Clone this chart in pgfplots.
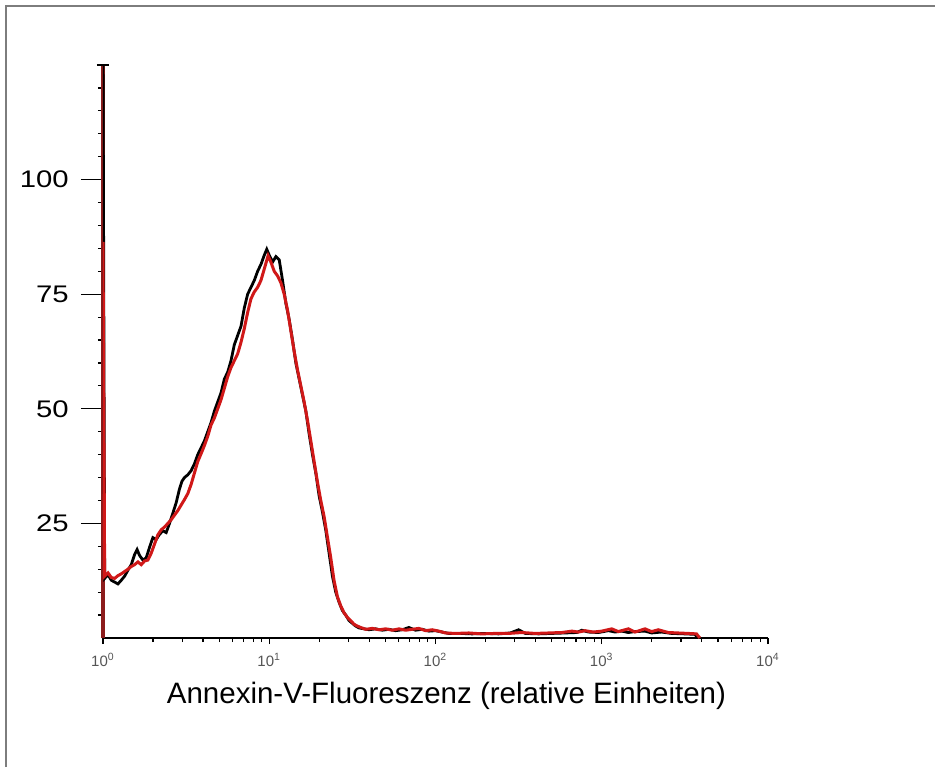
\documentclass[border=0pt]{standalone}
\usepackage{fontspec}
\setmainfont{Liberation Sans}
\usepackage{pgfplots}
\pgfplotsset{compat=1.18}
\definecolor{plotred}{RGB}{208,24,24}
\definecolor{axisred}{RGB}{140,28,28}
\definecolor{framegray}{RGB}{125,125,125}
\definecolor{tlgray}{RGB}{85,85,85}

\begin{document}
\begin{tikzpicture}
\path[use as bounding box] (0,0) rectangle (467.5pt,383.5pt);
\draw[framegray, line width=0.8pt] (3pt,0) -- (3pt,380.5pt) -- (467.5pt,380.5pt);
\begin{axis}[
  at={(51.5pt,64.5pt)}, anchor=south west,
  scale only axis, width=332.5pt, height=286.5pt,
  xmin=0, xmax=4, ymin=0, ymax=125,
  axis x line=bottom, axis y line=left,
  axis line style={-},
  x axis line style={black, line width=0.8pt},
  y axis line style={axisred, line width=1.8pt},
  tick align=outside,
  tick style={black, line width=0.6pt},
  /pgf/number format/assume math mode=true,
  major x tick style={/pgfplots/major tick length=3pt},
  minor x tick style={/pgfplots/minor tick length=2pt},
  major y tick style={/pgfplots/major tick length=11pt},
  minor y tick style={/pgfplots/minor tick length=2.5pt},
  xtick={0,1,2,3,4},
  xticklabels={10\textsuperscript{0},10\textsuperscript{1},10\textsuperscript{2},10\textsuperscript{3},10\textsuperscript{4}},
  minor xtick={0.30103,0.47712,0.60206,0.69897,0.77815,0.84510,0.90309,0.95424,
    1.30103,1.47712,1.60206,1.69897,1.77815,1.84510,1.90309,1.95424,
    2.30103,2.47712,2.60206,2.69897,2.77815,2.84510,2.90309,2.95424,
    3.30103,3.47712,3.60206,3.69897,3.77815,3.84510,3.90309,3.95424},
  ytick={25,50,75,100},
  minor ytick={5,10,15,20,30,35,40,45,55,60,65,70,80,85,90,95,105,110,115,120},
  extra y ticks={125}, extra y tick labels={},
  extra y tick style={tick align=center, major y tick style={/pgfplots/major tick length=6pt}},
  xticklabel style={font=\fontsize{7.5}{9}\selectfont, text=tlgray},
  yticklabel style={font=\fontsize{12}{14}\selectfont, xscale=1.22, xshift=-7pt},
  xlabel={Annexin-V-Fluoreszenz (relative Einheiten)},
  xlabel style={at={(axis description cs:0.5165,0)}, anchor=center, yshift=-29pt, font=\fontsize{14.75}{17}\selectfont},
]
\addplot[black, line width=1.4pt] coordinates {
(0,130) (0.010,13.0) (0.030,13.8) (0.050,12.6) (0.070,12.2) (0.090,11.8) (0.110,12.6) (0.130,13.5)
(0.150,14.8) (0.170,16.0) (0.190,18.2) (0.205,19.3) (0.220,18.0) (0.240,17.0) (0.260,17.5) (0.280,19.8)
(0.300,21.9) (0.320,21.5) (0.340,22.6) (0.360,23.4) (0.380,23.0) (0.400,25.0) (0.420,27.2) (0.440,29.5)
(0.460,32.5) (0.475,34.2) (0.490,35.0) (0.510,35.6) (0.530,36.5) (0.550,38.0) (0.570,40.0) (0.590,41.5)
(0.610,43.0) (0.630,45.0) (0.650,47.0) (0.670,49.5) (0.690,51.5) (0.710,53.5) (0.730,56.5) (0.750,58.0)
(0.770,60.5) (0.790,64.0) (0.810,66.0) (0.830,68.0) (0.850,72.0) (0.870,75.0) (0.890,76.5) (0.910,78.0)
(0.930,80.0) (0.950,81.5) (0.970,83.5) (0.985,84.8) (1.000,83.5) (1.020,82.0) (1.040,83.2) (1.060,82.5)
(1.080,78.0) (1.100,73.0) (1.120,69.5) (1.140,65.0) (1.160,60.0) (1.180,56.5) (1.200,53.0) (1.220,49.5)
(1.240,44.5) (1.260,40.0) (1.280,36.0) (1.300,31.0) (1.320,27.5) (1.340,23.5) (1.360,18.5) (1.380,13.5)
(1.400,10.0) (1.420,7.8) (1.440,6.0) (1.460,5.0) (1.480,3.8) (1.500,3.2) (1.520,2.6) (1.540,2.2)
(1.57,2.0) (1.60,1.8) (1.64,2.0) (1.68,1.7) (1.72,1.9) (1.76,1.6) (1.80,1.8) (1.84,2.3) (1.88,1.7)
(1.92,1.9) (1.96,1.5) (2.00,1.6) (2.04,1.3) (2.08,1.0) (2.15,1.0) (2.22,0.9) (2.30,1.0) (2.38,0.9)
(2.45,1.1) (2.50,1.8) (2.54,1.0) (2.62,0.9) (2.70,1.0) (2.78,1.1) (2.85,1.2) (2.88,1.7) (2.92,1.3)
(2.98,1.2) (3.04,1.6) (3.08,1.3) (3.12,1.5) (3.16,1.2) (3.20,1.4) (3.26,1.5) (3.30,1.1) (3.36,1.3)
(3.42,1.0) (3.50,0.9) (3.56,0.8) (3.58,0)
};
\addplot[plotred, line width=1.5pt] coordinates {
(0,86.4) (0.010,13.5) (0.030,14.2) (0.050,13.2) (0.070,13.0) (0.090,13.6) (0.110,14.0) (0.130,14.5)
(0.150,15.0) (0.170,15.6) (0.190,16.0) (0.210,16.6) (0.230,16.0) (0.250,16.8) (0.270,17.0) (0.290,18.5)
(0.310,20.5) (0.330,22.5) (0.350,23.6) (0.370,24.2) (0.390,25.0) (0.410,25.8) (0.430,26.8) (0.450,27.8)
(0.470,29.0) (0.490,30.2) (0.510,31.5) (0.530,33.5) (0.550,36.0) (0.570,38.5) (0.590,40.2) (0.610,42.0)
(0.630,44.0) (0.650,46.5) (0.670,48.0) (0.690,50.0) (0.710,52.0) (0.730,54.5) (0.750,57.0) (0.770,59.0)
(0.790,60.5) (0.810,62.0) (0.830,64.5) (0.850,67.5) (0.870,71.0) (0.890,74.0) (0.910,75.5) (0.930,76.5)
(0.950,78.0) (0.970,80.5) (0.993,83.4) (1.010,82.0) (1.030,80.0) (1.050,79.0) (1.070,77.5) (1.090,75.0)
(1.110,71.5) (1.130,67.0) (1.150,62.5) (1.170,58.5) (1.190,55.0) (1.210,51.5) (1.230,47.5) (1.250,43.0)
(1.270,38.5) (1.290,34.0) (1.310,30.0) (1.330,26.5) (1.350,22.0) (1.370,17.5) (1.390,12.5) (1.410,9.0)
(1.430,7.0) (1.450,5.5) (1.470,4.5) (1.490,3.8) (1.510,3.0) (1.530,2.6) (1.550,2.3)
(1.58,1.9) (1.62,2.1) (1.66,1.8) (1.70,2.0) (1.74,1.7) (1.78,2.0) (1.82,1.7) (1.86,1.9) (1.90,2.1)
(1.94,1.6) (1.98,1.8) (2.02,1.5) (2.06,1.1) (2.12,1.0) (2.20,1.1) (2.28,0.9) (2.36,1.0) (2.44,1.0)
(2.52,1.2) (2.60,1.0) (2.68,1.1) (2.76,1.2) (2.82,1.5) (2.86,1.3) (2.90,1.6) (2.95,1.3) (3.00,1.5)
(3.06,2.0) (3.10,1.4) (3.16,2.0) (3.20,1.3) (3.26,2.0) (3.30,1.4) (3.34,1.8) (3.40,1.2) (3.46,1.1)
(3.52,1.0) (3.57,0.9) (3.59,0)
};
\end{axis}
\end{tikzpicture}
\end{document}
